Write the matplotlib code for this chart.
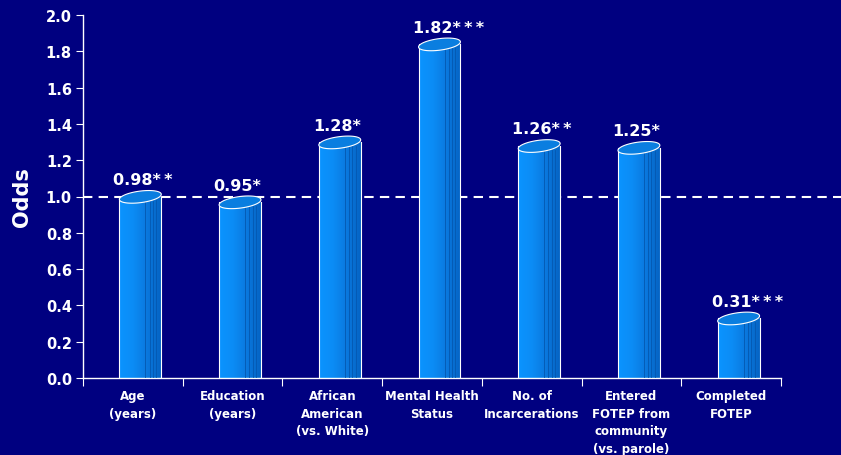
import numpy as np
import matplotlib
matplotlib.use("Agg")
import matplotlib.pyplot as plt
from matplotlib.patches import Polygon, Rectangle

categories = ["Age\n(years)", "Education\n(years)", "African\nAmerican\n(vs. White)",
              "Mental Health\nStatus", "No. of\nIncarcerations",
              "Entered\nFOTEP from\ncommunity\n(vs. parole)", "Completed\nFOTEP"]
odds = [0.98, 0.95, 1.28, 1.82, 1.26, 1.25, 0.31]
values_text = ["0.98", "0.95", "1.28", "1.82", "1.26", "1.25", "0.31"]
stars = [2, 1, 1, 3, 2, 1, 3]
yticks = [0.0, 0.2, 0.4, 0.6, 0.8, 1.0, 1.2, 1.4, 1.6, 1.8, 2.0]

BG = "#000080"
W, H = 841, 456
fig = plt.figure(figsize=(W / 100, H / 100), dpi=100, facecolor=BG)
ax = fig.add_axes([83 / W, 1 - 379 / H, (781 - 83) / W, (379 - 16) / H])
ax.set_facecolor(BG)

n = len(odds)
ax.set_xlim(0, n)
ax.set_ylim(0, 2.0)

bw = 0.42
off = 0.575  # bar centre within each category slot
eh = 0.064   # ellipse height in data units
cmap = matplotlib.colors.LinearSegmentedColormap.from_list(
    "c", ["#0a94ff", "#0c8cf5", "#0a78de", "#0564c4"])
for i, v in enumerate(odds):
    x0 = i + off - bw / 2
    cy = v + 0.018
    grad = np.linspace(0, 1, 200)[None, :]
    body = Rectangle((x0, 0), bw, cy, facecolor="none", edgecolor="none")
    ax.add_patch(body)
    im = ax.imshow(grad, cmap=cmap, extent=(x0, x0 + bw, 0, cy), aspect="auto",
                   zorder=2, interpolation="bilinear")
    im.set_clip_path(body)
    for f in [0.62, 0.72, 0.8, 0.88]:
        ax.plot([x0 + bw * f] * 2, [0, cy - eh / 2 * 0.6], color="#0458b0",
                lw=0.6, zorder=3)
    ax.plot([x0, x0], [0, cy], color="white", lw=0.8, zorder=4)
    ax.plot([x0 + bw, x0 + bw], [0, cy], color="white", lw=0.8, zorder=4)
    t = np.linspace(0, 2 * np.pi, 100)
    ex = x0 + bw / 2 + bw / 2 * np.cos(t)
    ey = cy + eh / 2 * np.sin(t) + 0.014 * np.cos(t)
    ax.add_patch(Polygon(np.column_stack([ex, ey]), closed=True,
                         facecolor="#0a7ee0", edgecolor="white", lw=0.8, zorder=5))
    label = values_text[i] + "\u2009".join("*" * stars[i])
    ax.text(x0 - 0.06, v + 0.072, label, color="white", fontsize=11.5,
            fontweight="bold", ha="left", va="bottom", zorder=6)

ax.axhline(1.0, xmin=0, xmax=(W - 83) / (781 - 83), color="white", lw=1.5,
           ls=(0, (4.5, 3)), clip_on=False, zorder=1)

ax.set_yticks(yticks)
ax.set_yticklabels([f"{y:.1f}" for y in yticks])
ax.set_xticks(np.arange(n + 1))
ax.set_xticklabels([])
ax.set_xticks(np.arange(n) + 0.5, minor=True)
ax.set_xticklabels(categories, minor=True)
ax.tick_params(axis="x", which="minor", length=0, pad=8, colors="white",
               labelsize=8.5)
ax.tick_params(axis="x", which="major", length=6, color="white", direction="out")
ax.tick_params(axis="y", length=5, color="white", colors="white", labelsize=10.5,
               pad=3)
for lab in ax.get_yticklabels():
    lab.set_fontweight("bold")
for lab in ax.get_xticklabels(minor=True):
    lab.set_fontweight("bold")
    lab.set_linespacing(1.45)

for s in ["top", "right"]:
    ax.spines[s].set_visible(False)
for s in ["left", "bottom"]:
    ax.spines[s].set_color("white")
    ax.spines[s].set_linewidth(1.0)

fig.text(22 / W, 1 - 197 / H, "Odds", rotation=90, color="white", fontsize=15,
         fontweight="bold", ha="center", va="center")

fig.savefig("out.png", dpi=100, facecolor=BG)
